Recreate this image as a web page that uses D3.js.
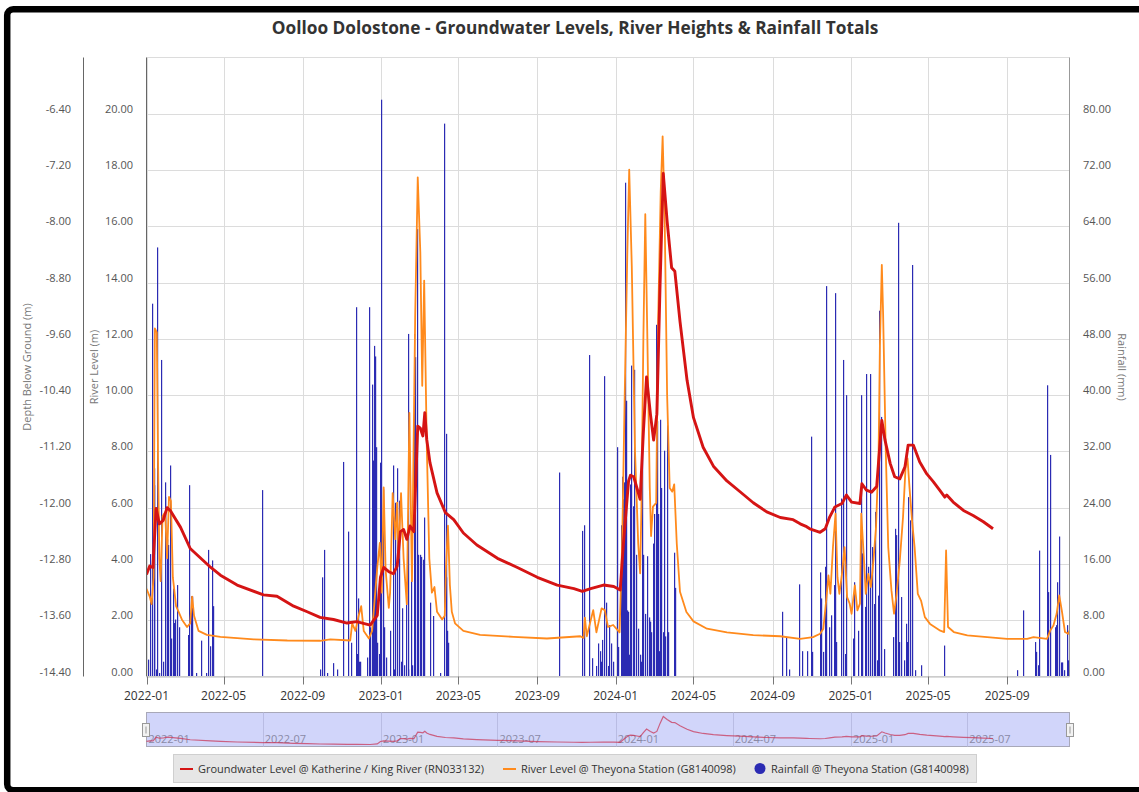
<!DOCTYPE html>
<html>
<head>
<meta charset="utf-8">
<script src="https://cdn.jsdelivr.net/npm/d3@7"></script>
<style>
  html, body { margin: 0; padding: 0; background: #fff; }
  svg { display: block; font-family: "Segoe UI", "Open Sans", "Noto Sans", sans-serif; }
</style>
</head>
<body>
<svg id="chart" width="1139" height="792"></svg>
<script>
// Values.
const title = 'Oolloo Dolostone - Groundwater Levels, River Heights & Rainfall Totals';

const seriesNames = [
  'Groundwater Level @ Katherine / King River (RN033132)',
  'River Level @ Theyona Station (G8140098)',
  'Rainfall @ Theyona Station (G8140098)'
];

const xTickLabels = ['2022-01', '2022-05', '2022-09', '2023-01', '2023-05', '2023-09',
  '2024-01', '2024-05', '2024-09', '2025-01', '2025-05', '2025-09'];
const navTickLabels = ['2022-01', '2022-07', '2023-01', '2023-07', '2024-01', '2024-07', '2025-01', '2025-07'];
const riverTicks = [0, 2, 4, 6, 8, 10, 12, 14, 16, 18, 20];
const depthTicks = [-14.4, -13.6, -12.8, -12.0, -11.2, -10.4, -9.6, -8.8, -8.0, -7.2, -6.4];
const rainTicks = [0, 8, 16, 24, 32, 40, 48, 56, 64, 72, 80];

// depth below ground (m), plotted on the left outer axis
const groundwater = [
  ['2022-01-01', -12.95], ['2022-01-06', -12.83], ['2022-01-11', -12.85], ['2022-01-16', -12.01],
  ['2022-01-21', -12.23], ['2022-01-27', -12.18], ['2022-02-02', -12.00], ['2022-02-07', -12.04],
  ['2022-02-23', -12.28], ['2022-03-10', -12.58], ['2022-04-11', -12.85], ['2022-04-26', -12.96],
  ['2022-05-22', -13.10], ['2022-07-02', -13.24], ['2022-07-23', -13.26], ['2022-08-18', -13.40],
  ['2022-09-08', -13.48], ['2022-09-28', -13.56], ['2022-10-19', -13.59], ['2022-11-09', -13.64],
  ['2022-11-24', -13.62], ['2022-12-15', -13.67], ['2022-12-26', -13.53], ['2022-12-31', -12.99],
  ['2023-01-05', -12.85], ['2023-01-13', -12.91], ['2023-01-20', -12.94], ['2023-01-26', -12.83],
  ['2023-01-31', -12.34], ['2023-02-05', -12.31], ['2023-02-10', -12.45], ['2023-02-15', -12.26],
  ['2023-02-21', -12.34], ['2023-02-27', -10.84], ['2023-03-03', -10.87], ['2023-03-07', -10.98],
  ['2023-03-10', -10.65], ['2023-03-13', -11.03], ['2023-03-18', -11.36], ['2023-03-29', -11.79],
  ['2023-04-11', -12.07], ['2023-04-24', -12.17], ['2023-05-09', -12.36], ['2023-05-30', -12.53],
  ['2023-07-01', -12.72], ['2023-08-01', -12.85], ['2023-09-01', -12.99], ['2023-10-02', -13.10],
  ['2023-10-28', -13.15], ['2023-11-10', -13.19], ['2023-11-23', -13.15], ['2023-12-13', -13.10],
  ['2023-12-29', -13.12], ['2024-01-08', -13.17], ['2024-01-13', -12.51], ['2024-01-21', -11.62],
  ['2024-01-24', -11.54], ['2024-01-29', -11.56], ['2024-02-03', -11.72], ['2024-02-08', -11.88],
  ['2024-02-13', -10.93], ['2024-02-18', -10.14], ['2024-02-24', -10.67], ['2024-02-29', -11.04],
  ['2024-03-05', -10.67], ['2024-03-10', -8.83], ['2024-03-15', -7.25], ['2024-03-21', -7.93],
  ['2024-03-28', -8.59], ['2024-04-02', -8.64], ['2024-04-10', -9.35], ['2024-04-21', -10.19],
  ['2024-05-01', -10.72], ['2024-05-16', -11.14], ['2024-06-01', -11.41], ['2024-06-22', -11.62],
  ['2024-07-12', -11.77], ['2024-08-02', -11.93], ['2024-08-23', -12.06], ['2024-09-13', -12.14],
  ['2024-10-03', -12.17], ['2024-10-14', -12.23], ['2024-10-24', -12.27], ['2024-10-29', -12.30],
  ['2024-11-14', -12.35], ['2024-11-22', -12.30], ['2024-11-29', -12.13], ['2024-12-07', -11.99],
  ['2024-12-18', -11.94], ['2024-12-25', -11.82], ['2025-01-02', -11.92], ['2025-01-15', -11.94],
  ['2025-01-18', -11.66], ['2025-01-25', -11.75], ['2025-02-02', -11.78], ['2025-02-10', -11.70],
  ['2025-02-18', -10.76], ['2025-02-23', -11.04], ['2025-03-03', -11.37], ['2025-03-10', -11.56],
  ['2025-03-18', -11.59], ['2025-03-26', -11.42], ['2025-03-31', -11.11], ['2025-04-08', -11.11],
  ['2025-04-18', -11.35], ['2025-04-29', -11.52], ['2025-05-09', -11.63], ['2025-05-19', -11.75],
  ['2025-05-27', -11.85], ['2025-05-30', -11.82], ['2025-06-09', -11.92], ['2025-06-25', -12.04],
  ['2025-07-10', -12.11], ['2025-07-26', -12.20], ['2025-08-10', -12.30]
];

// river level (m)
const riverLevel = [
  ['2022-01-01', 3.12], ['2022-01-06', 2.84], ['2022-01-09', 2.57], ['2022-01-12', 3.52],
  ['2022-01-14', 12.37], ['2022-01-17', 12.23], ['2022-01-19', 7.61], ['2022-01-21', 4.20],
  ['2022-01-23', 3.39], ['2022-01-26', 5.70], ['2022-01-30', 5.84], ['2022-02-02', 4.20],
  ['2022-02-05', 6.38], ['2022-02-08', 6.24], ['2022-02-11', 3.52], ['2022-02-13', 3.12],
  ['2022-02-16', 2.50], ['2022-02-20', 2.30], ['2022-02-25', 2.03], ['2022-03-05', 1.76],
  ['2022-03-10', 1.89], ['2022-03-13', 2.84], ['2022-03-16', 2.16], ['2022-03-23', 1.62],
  ['2022-04-05', 1.48], ['2022-04-26', 1.41], ['2022-06-17', 1.32], ['2022-08-08', 1.28],
  ['2022-09-28', 1.27], ['2022-10-14', 1.32], ['2022-11-14', 1.28], ['2022-11-17', 1.89],
  ['2022-11-22', 1.62], ['2022-11-27', 2.16], ['2022-12-01', 2.50], ['2022-12-05', 1.62],
  ['2022-12-13', 1.35], ['2022-12-18', 1.62], ['2022-12-26', 3.86], ['2022-12-30', 4.75],
  ['2023-01-02', 2.98], ['2023-01-05', 6.72], ['2023-01-08', 3.80], ['2023-01-13', 2.44],
  ['2023-01-15', 2.98], ['2023-01-19', 6.52], ['2023-01-23', 4.88], ['2023-01-26', 6.18],
  ['2023-01-28', 4.20], ['2023-02-01', 6.52], ['2023-02-05', 4.20], ['2023-02-10', 2.57],
  ['2023-02-14', 9.37], ['2023-02-18', 3.39], ['2023-02-23', 12.78], ['2023-02-27', 17.74],
  ['2023-03-03', 15.09], ['2023-03-06', 10.33], ['2023-03-09', 14.07], ['2023-03-13', 8.29],
  ['2023-03-17', 4.20], ['2023-03-21', 2.98], ['2023-03-25', 3.18], ['2023-03-29', 2.30],
  ['2023-04-06', 2.03], ['2023-04-10', 2.16], ['2023-04-12', 3.93], ['2023-04-15', 5.36],
  ['2023-04-18', 3.25], ['2023-04-21', 2.30], ['2023-04-26', 1.89], ['2023-05-09', 1.62],
  ['2023-06-04', 1.48], ['2023-07-26', 1.41], ['2023-09-16', 1.35], ['2023-11-07', 1.43],
  ['2023-11-12', 1.37], ['2023-11-14', 2.09], ['2023-11-17', 1.43], ['2023-11-27', 2.36],
  ['2023-12-02', 1.57], ['2023-12-10', 2.42], ['2023-12-15', 2.36], ['2023-12-20', 1.76],
  ['2023-12-28', 1.83], ['2024-01-07', 1.57], ['2024-01-11', 4.72], ['2024-01-15', 9.99],
  ['2024-01-19', 14.99], ['2024-01-22', 18.01], ['2024-01-26', 14.59], ['2024-01-31', 8.01],
  ['2024-02-05', 4.72], ['2024-02-08', 3.67], ['2024-02-10', 6.04], ['2024-02-13', 11.96],
  ['2024-02-16', 16.43], ['2024-02-19', 12.36], ['2024-02-23', 6.70], ['2024-02-25', 4.99],
  ['2024-02-28', 6.04], ['2024-03-04', 6.17], ['2024-03-07', 12.62], ['2024-03-11', 17.22],
  ['2024-03-14', 19.20], ['2024-03-17', 16.57], ['2024-03-21', 9.99], ['2024-03-25', 6.70],
  ['2024-03-29', 6.57], ['2024-04-01', 6.83], ['2024-04-05', 4.72], ['2024-04-10', 3.01],
  ['2024-04-20', 2.29], ['2024-05-01', 1.96], ['2024-05-22', 1.70], ['2024-06-22', 1.57],
  ['2024-08-02', 1.47], ['2024-09-13', 1.43], ['2024-10-14', 1.34], ['2024-11-03', 1.40],
  ['2024-11-14', 1.52], ['2024-11-19', 1.70], ['2024-11-24', 2.82], ['2024-11-27', 3.59],
  ['2024-11-30', 2.94], ['2024-12-04', 4.60], ['2024-12-08', 5.79], ['2024-12-11', 3.53],
  ['2024-12-14', 2.94], ['2024-12-18', 3.65], ['2024-12-22', 4.60], ['2024-12-26', 2.82],
  ['2024-12-30', 2.59], ['2025-01-02', 2.23], ['2025-01-07', 3.24], ['2025-01-11', 2.35],
  ['2025-01-15', 2.59], ['2025-01-17', 5.79], ['2025-01-21', 4.25], ['2025-01-24', 2.94],
  ['2025-01-28', 3.65], ['2025-02-01', 3.18], ['2025-02-05', 4.13], ['2025-02-09', 5.31],
  ['2025-02-13', 7.92], ['2025-02-15', 11.72], ['2025-02-18', 14.63], ['2025-02-20', 12.91],
  ['2025-02-24', 8.16], ['2025-02-28', 4.60], ['2025-03-05', 3.06], ['2025-03-09', 2.23],
  ['2025-03-13', 2.94], ['2025-03-18', 4.13], ['2025-03-23', 5.67], ['2025-03-27', 7.45],
  ['2025-03-30', 7.75], ['2025-04-02', 6.74], ['2025-04-06', 5.55], ['2025-04-10', 4.60],
  ['2025-04-15', 2.94], ['2025-04-20', 2.70], ['2025-04-26', 2.11], ['2025-05-04', 1.87],
  ['2025-05-20', 1.63], ['2025-05-26', 1.58], ['2025-05-29', 4.48], ['2025-06-01', 1.76],
  ['2025-06-10', 1.58], ['2025-07-01', 1.46], ['2025-08-01', 1.40], ['2025-09-01', 1.34],
  ['2025-10-02', 1.34], ['2025-10-12', 1.40], ['2025-11-02', 1.34], ['2025-11-07', 1.63],
  ['2025-11-12', 1.81], ['2025-11-17', 2.23], ['2025-11-21', 2.88], ['2025-11-25', 2.35],
  ['2025-11-30', 1.58], ['2025-12-05', 1.52], ['2025-12-07', 1.63]
];

// daily rainfall (mm)
const rainfall = [
  ['2022-01-04', 2.4], ['2022-01-07', 17.4], ['2022-01-10', 53], ['2022-01-13', 27.2],
  ['2022-01-14', 29.6], ['2022-01-16', 1], ['2022-01-18', 61], ['2022-01-21', 0.5],
  ['2022-01-24', 45], ['2022-01-28', 2.1], ['2022-01-30', 27.6], ['2022-01-31', 25.5],
  ['2022-02-02', 19.5], ['2022-02-04', 18.7], ['2022-02-07', 30], ['2022-02-09', 5.4],
  ['2022-02-12', 12.5], ['2022-02-14', 7.6], ['2022-02-15', 8.1], ['2022-02-18', 13],
  ['2022-02-21', 7], ['2022-03-07', 5.9], ['2022-03-09', 27.2], ['2022-03-12', 11.4],
  ['2022-03-14', 11.4], ['2022-03-20', 0.5], ['2022-03-28', 5.1], ['2022-04-04', 0.5],
  ['2022-04-08', 18], ['2022-04-10', 4.3], ['2022-04-13', 16.5], ['2022-04-15', 10],
  ['2022-07-01', 26.5], ['2022-09-28', 1], ['2022-10-02', 14.1], ['2022-10-05', 18],
  ['2022-10-10', 0.5], ['2022-10-19', 1.9], ['2022-10-25', 1], ['2022-11-04', 30.5],
  ['2022-11-12', 20.6], ['2022-11-16', 4.8], ['2022-11-23', 52.5], ['2022-11-25', 3.2],
  ['2022-11-27', 11.1], ['2022-11-28', 2.1], ['2022-11-30', 2.1], ['2022-12-11', 2.7],
  ['2022-12-14', 52.5], ['2022-12-16', 7], ['2022-12-18', 41.5], ['2022-12-20', 30.7],
  ['2022-12-22', 47], ['2022-12-23', 45.5], ['2022-12-25', 32.6], ['2022-12-27', 4.8],
  ['2022-12-29', 3.2], ['2022-12-31', 30.4], ['2023-01-02', 82], ['2023-01-05', 26.6],
  ['2023-01-06', 7], ['2023-01-09', 2.7], ['2023-01-16', 6.5], ['2023-01-20', 30],
  ['2023-01-22', 1], ['2023-01-24', 24.7], ['2023-01-27', 29.6], ['2023-01-29', 25],
  ['2023-02-01', 2.1], ['2023-02-03', 9.7], ['2023-02-06', 1.6], ['2023-02-09', 11.4],
  ['2023-02-12', 48.7], ['2023-02-13', 1], ['2023-02-17', 19.5], ['2023-02-19', 1.6],
  ['2023-02-22', 48.7], ['2023-02-24', 45.4], ['2023-02-26', 63.6], ['2023-02-28', 17.3],
  ['2023-03-03', 17.3], ['2023-03-05', 17], ['2023-03-08', 16.6], ['2023-03-09', 22.6],
  ['2023-03-19', 10.5], ['2023-03-23', 8.6], ['2023-04-04', 0.5], ['2023-04-10', 78.6],
  ['2023-04-12', 14.1], ['2023-04-13', 34.5], ['2023-04-15', 6.5], ['2023-04-16', 4.8],
  ['2023-10-05', 29], ['2023-11-10', 20.7], ['2023-11-14', 21.5], ['2023-11-21', 45.7],
  ['2023-11-26', 2.6], ['2023-12-02', 1.5], ['2023-12-05', 4.7], ['2023-12-08', 3.6],
  ['2023-12-10', 2.1], ['2023-12-11', 5.2], ['2023-12-15', 42.7], ['2023-12-17', 10.5],
  ['2023-12-20', 1.5], ['2023-12-22', 7.3], ['2023-12-26', 4.7], ['2023-12-28', 2.1],
  ['2024-01-04', 32.6], ['2024-01-06', 4.2], ['2024-01-10', 21.5], ['2024-01-12', 28.4],
  ['2024-01-13', 25.2], ['2024-01-15', 27.6], ['2024-01-16', 70.2], ['2024-01-18', 39.2],
  ['2024-01-19', 9.4], ['2024-01-21', 9.2], ['2024-01-23', 3.1], ['2024-01-24', 27.3],
  ['2024-01-26', 44.2], ['2024-01-28', 24.2], ['2024-01-30', 43.6], ['2024-02-02', 17.3],
  ['2024-02-06', 6.8], ['2024-02-08', 3.1], ['2024-02-10', 2.1], ['2024-02-12', 34.9],
  ['2024-02-13', 17.3], ['2024-02-17', 8.9], ['2024-02-20', 17.1], ['2024-02-22', 8.4],
  ['2024-02-24', 7.8], ['2024-02-26', 6.3], ['2024-02-29', 18.9], ['2024-03-02', 23.1],
  ['2024-03-05', 50], ['2024-03-06', 36.3], ['2024-03-08', 23.1], ['2024-03-09', 3.6],
  ['2024-03-11', 36.5], ['2024-03-13', 26.8], ['2024-03-16', 6.3], ['2024-03-17', 32.1],
  ['2024-03-19', 5.7], ['2024-03-21', 35.7], ['2024-03-23', 6.3], ['2024-04-02', 17.6],
  ['2024-04-03', 12.6], ['2024-09-16', 9.2], ['2024-09-22', 5.5], ['2024-09-27', 1],
  ['2024-10-13', 13.1], ['2024-10-18', 3.6], ['2024-10-25', 3.6], ['2024-10-31', 34.1],
  ['2024-11-02', 3.5], ['2024-11-14', 14.8], ['2024-11-16', 11.1], ['2024-11-19', 3.5],
  ['2024-11-22', 15.6], ['2024-11-24', 55.5], ['2024-11-28', 7], ['2024-12-02', 8.7],
  ['2024-12-06', 13], ['2024-12-08', 54.5], ['2024-12-10', 4.9], ['2024-12-18', 25.3],
  ['2024-12-21', 45], ['2024-12-23', 3.2], ['2024-12-25', 40], ['2025-01-05', 5.4],
  ['2025-01-07', 13.4], ['2025-01-13', 6.5], ['2025-01-17', 40], ['2025-01-19', 17.5],
  ['2025-01-23', 9.9], ['2025-01-25', 43], ['2025-01-29', 15.6], ['2025-02-01', 43],
  ['2025-02-03', 18.4], ['2025-02-06', 10.3], ['2025-02-08', 23.4], ['2025-02-11', 2.3],
  ['2025-02-13', 11.5], ['2025-02-15', 52], ['2025-02-17', 36.9], ['2025-02-22', 3.9],
  ['2025-03-08', 5.6], ['2025-03-11', 21], ['2025-03-13', 20.1], ['2025-03-16', 64.5],
  ['2025-03-18', 4.9], ['2025-03-21', 11.3], ['2025-03-25', 2.3], ['2025-03-28', 7.5],
  ['2025-03-30', 4.9], ['2025-04-01', 25.5], ['2025-04-03', 22.2], ['2025-04-06', 58.5],
  ['2025-04-11', 0.9], ['2025-04-20', 1.6], ['2025-05-27', 4.4], ['2025-09-17', 0.9],
  ['2025-09-27', 9.4], ['2025-10-15', 4.9], ['2025-10-16', 3.5], ['2025-10-19', 1.6],
  ['2025-10-21', 17.9], ['2025-11-03', 41.4], ['2025-11-05', 12], ['2025-11-08', 31.5],
  ['2025-11-15', 7], ['2025-11-17', 7.3], ['2025-11-19', 13.4], ['2025-11-21', 19.9],
  ['2025-11-24', 2], ['2025-11-26', 2], ['2025-11-29', 0.9], ['2025-12-04', 7.3],
  ['2025-12-05', 2.3]
];

const xStart = '2022-01-01';
const xEnd = '2025-12-07';

(function () {
  const parseDay = d3.utcParse('%Y-%m-%d');
  const parseMonth = d3.utcParse('%Y-%m');
  const svg = d3.select('#chart');

  const plot = { left: 146.5, right: 1069.5, top: 57.5, bottom: 676.5 };
  const nav = { top: 712.5, bottom: 746.5 };

  const colors = { gw: '#d51414', river: '#ff8a1c', rain: '#2b2bb3' };

  const x = d3.scaleUtc().domain([parseDay(xStart), parseDay(xEnd)]).range([plot.left, plot.right]);
  const yRiver = d3.scaleLinear().domain([0, 22]).range([plot.bottom, plot.top]);
  const yDepth = d3.scaleLinear().domain([-14.4, -5.6]).range([plot.bottom, plot.top]);
  const yRain = d3.scaleLinear().domain([0, 88]).range([plot.bottom, plot.top]);

  const gw = groundwater.map(d => ({ date: parseDay(d[0]), v: d[1] }));
  const rv = riverLevel.map(d => ({ date: parseDay(d[0]), v: d[1] }));
  const rn = rainfall.map(d => ({ date: parseDay(d[0]), v: d[1] }));

  // outer frame of the screenshot
  svg.append('rect')
    .attr('x', 7.2).attr('y', 9.2).attr('width', 1150).attr('height', 781)
    .attr('rx', 6).attr('fill', 'none').attr('stroke', '#000').attr('stroke-width', 6.5);

  svg.append('text')
    .attr('x', 575).attr('y', 34).attr('text-anchor', 'middle')
    .attr('font-size', 17.3).attr('font-weight', 'bold').attr('fill', '#333')
    .text(title);

  // grid
  const grid = svg.append('g');
  grid.selectAll('line.h').data(riverTicks).join('line')
    .attr('x1', plot.left).attr('x2', plot.right)
    .attr('y1', d => Math.round(yRiver(d)) + 0.5).attr('y2', d => Math.round(yRiver(d)) + 0.5)
    .attr('stroke', '#dcdcdc');
  grid.append('line').attr('x1', plot.left).attr('x2', plot.right)
    .attr('y1', plot.top).attr('y2', plot.top).attr('stroke', '#dcdcdc');
  const xTicks = xTickLabels.map(parseMonth);
  grid.selectAll('line.v').data(xTicks).join('line')
    .attr('x1', d => Math.round(x(d)) + 0.5).attr('x2', d => Math.round(x(d)) + 0.5)
    .attr('y1', plot.top).attr('y2', plot.bottom)
    .attr('stroke', '#dcdcdc');

  // clip for series
  svg.append('clipPath').attr('id', 'plotClip').append('rect')
    .attr('x', plot.left).attr('y', plot.top)
    .attr('width', plot.right - plot.left).attr('height', plot.bottom - plot.top);
  const series = svg.append('g').attr('clip-path', 'url(#plotClip)');

  series.append('g').selectAll('rect').data(rn).join('rect')
    .attr('x', d => Math.floor(x(d.date)))
    .attr('width', 1.2)
    .attr('y', d => yRain(d.v))
    .attr('height', d => yRain(0) - yRain(d.v))
    .attr('fill', colors.rain);

  series.append('path').datum(rv)
    .attr('fill', 'none').attr('stroke', colors.river).attr('stroke-width', 1.8)
    .attr('stroke-linejoin', 'round')
    .attr('d', d3.line().x(d => x(d.date)).y(d => yRiver(d.v)));

  series.append('path').datum(gw)
    .attr('fill', 'none').attr('stroke', colors.gw).attr('stroke-width', 2.9)
    .attr('stroke-linejoin', 'round')
    .attr('d', d3.line().x(d => x(d.date)).y(d => yDepth(d.v)));

  // axes
  const axisG = svg.append('g').attr('font-size', 11).attr('fill', '#555');
  axisG.append('line').attr('x1', 83.5).attr('x2', 83.5).attr('y1', plot.top).attr('y2', plot.bottom).attr('stroke', '#666');
  axisG.append('line').attr('x1', plot.left).attr('x2', plot.left).attr('y1', plot.top).attr('y2', plot.bottom).attr('stroke', '#666');
  axisG.append('line').attr('x1', plot.right).attr('x2', plot.right).attr('y1', plot.top).attr('y2', plot.bottom).attr('stroke', '#999');
  axisG.append('line').attr('x1', plot.left).attr('x2', plot.right).attr('y1', plot.bottom).attr('y2', plot.bottom).attr('stroke', '#ccc');

  axisG.selectAll('text.depth').data(depthTicks).join('text')
    .attr('x', 71).attr('y', d => yDepth(d) - 1).attr('text-anchor', 'end')
    .text(d => d.toFixed(2));
  axisG.selectAll('text.river').data(riverTicks).join('text')
    .attr('x', 133).attr('y', d => yRiver(d) - 1).attr('text-anchor', 'end')
    .text(d => d.toFixed(2));
  axisG.selectAll('text.rain').data(rainTicks).join('text')
    .attr('x', 1083).attr('y', d => yRain(d) - 1).attr('text-anchor', 'start')
    .text(d => d.toFixed(2));

  const midY = (plot.top + plot.bottom) / 2;
  const titles = svg.append('g').attr('font-size', 11).attr('fill', '#777').attr('text-anchor', 'middle');
  titles.append('text').attr('transform', `translate(31,${midY}) rotate(-90)`).text('Depth Below Ground (m)');
  titles.append('text').attr('transform', `translate(98,${midY}) rotate(-90)`).text('River Level (m)');
  titles.append('text').attr('transform', `translate(1118,${midY}) rotate(90)`).text('Rainfall (mm)');

  // x ticks and labels
  const xAxisG = svg.append('g');
  xAxisG.selectAll('line').data(xTicks).join('line')
    .attr('x1', d => Math.round(x(d)) + 0.5).attr('x2', d => Math.round(x(d)) + 0.5)
    .attr('y1', plot.bottom).attr('y2', plot.bottom + 8)
    .attr('stroke', '#777');
  xAxisG.selectAll('text').data(xTicks).join('text')
    .attr('x', d => x(d)).attr('y', 699.5).attr('text-anchor', 'middle')
    .attr('font-size', 12).attr('fill', '#333')
    .text(d3.utcFormat('%Y-%m'));

  // navigator
  const navG = svg.append('g');
  navG.append('rect')
    .attr('x', plot.left).attr('y', nav.top)
    .attr('width', plot.right - plot.left).attr('height', nav.bottom - nav.top)
    .attr('fill', '#d1d5fa').attr('stroke', '#a8a8b8');
  const navTicks = navTickLabels.map(parseMonth);
  navG.selectAll('line').data(navTicks.slice(1)).join('line')
    .attr('x1', d => Math.round(x(d)) + 0.5).attr('x2', d => Math.round(x(d)) + 0.5)
    .attr('y1', nav.top).attr('y2', nav.bottom)
    .attr('stroke', '#b9bce3');
  navG.selectAll('text').data(navTicks).join('text')
    .attr('x', d => x(d) + 2).attr('y', 742.5)
    .attr('font-size', 11).attr('fill', '#8a8aa6')
    .text(d3.utcFormat('%Y-%m'));
  const yNav = d3.scaleLinear().domain(d3.extent(gw, d => d.v)).range([744.5, 716.5]);
  navG.append('path').datum(gw)
    .attr('fill', 'none').attr('stroke', '#c8385a').attr('stroke-opacity', 0.75).attr('stroke-width', 1.2)
    .attr('d', d3.line().x(d => x(d.date)).y(d => yNav(d.v)));
  [plot.left - 0.5, plot.right + 0.5].forEach(hx => {
    navG.append('rect').attr('x', hx - 3.5).attr('y', 723.5).attr('width', 7).attr('height', 13)
      .attr('fill', '#f2f2f2').attr('stroke', '#999');
    navG.append('line').attr('x1', hx).attr('x2', hx).attr('y1', 726.5).attr('y2', 733.5).attr('stroke', '#999');
  });

  // legend
  const leg = svg.append('g').attr('font-size', 11).attr('fill', '#333');
  leg.append('rect').attr('x', 173.5).attr('y', 754.5).attr('width', 803).attr('height', 28)
    .attr('fill', '#e6e6e6').attr('stroke', '#cfcfcf');
  const legItems = [
    { name: seriesNames[0], color: colors.gw, kind: 'line', x: 180 },
    { name: seriesNames[1], color: colors.river, kind: 'line', x: 503 },
    { name: seriesNames[2], color: colors.rain, kind: 'dot', x: 755 }
  ];
  legItems.forEach(it => {
    if (it.kind === 'line') {
      leg.append('line').attr('x1', it.x).attr('x2', it.x + 13).attr('y1', 769).attr('y2', 769)
        .attr('stroke', it.color).attr('stroke-width', 2);
    } else {
      leg.append('circle').attr('cx', it.x + 5).attr('cy', 768.5).attr('r', 5.5).attr('fill', it.color);
    }
    leg.append('text').attr('x', it.x + (it.kind === 'line' ? 18 : 16)).attr('y', 772.5).text(it.name);
  });
})();
</script>
</body>
</html>
